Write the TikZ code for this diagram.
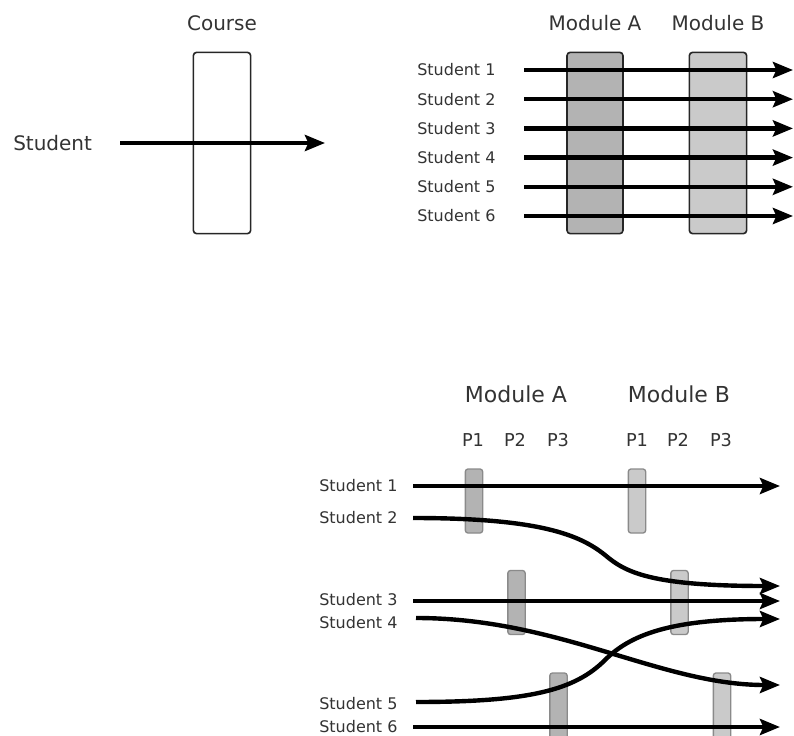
\documentclass[tikz,border=0pt]{standalone}
\usepackage{fontspec}
\setmainfont{DejaVu Sans}
\usetikzlibrary{arrows.meta,positioning}
\definecolor{modA}{HTML}{B3B3B3}
\definecolor{modB}{HTML}{CACACA}
\definecolor{barline}{HTML}{8A8A8A}
\definecolor{ink}{HTML}{333333}

\begin{document}
\begin{tikzpicture}[x=0.75pt,y=-0.75pt,
    lbl/.style={text=ink,inner sep=0pt,font=\fontsize{15pt}{18pt}\selectfont},
    small/.style={lbl,font=\fontsize{12pt}{14pt}\selectfont},
    box/.style={draw=black!85,line width=1.2pt,rounded corners=2.5pt,minimum width=43pt,minimum height=136pt,inner sep=0pt},
    bar/.style={draw=barline,line width=1pt,rounded corners=2pt,minimum width=13pt,minimum height=48pt,inner sep=0pt},
    flow/.style={line width=3.3pt,-{Stealth[length=15pt,width=12pt,inset=2.5pt]}}]
    \useasboundingbox (0,0) rectangle (794,736);

    % one course
    \node[box] (course) at (222,143) {};
    \node[lbl] (coursel) [above=15pt of course] {Course};
    \node[lbl,anchor=west] (student) at (13,143) {Student};
    \coordinate (s0) at (120,143);
    \coordinate (e0) at (325,143);
    \draw[flow] (s0) -- (e0);

    % two modules, same cohort
    \node[box,fill=modA,minimum width=42pt] (boxA) at (595,143) {};
    \node[box,fill=modB] (boxB) at (718,143) {};
    \node[lbl] (boxAl) [above=15pt of boxA] {Module A};
    \node[lbl] (boxBl) [above=15pt of boxB] {Module B};
    \foreach \i in {1,...,6} {
      \node[small,anchor=west] (stu\i) at (417,{70+29.2*(\i-1)}) {Student \i};
      \coordinate (a\i) at (524,{70+29.2*(\i-1)});
      \coordinate (b\i) at (793,{70+29.2*(\i-1)});
      \draw[flow] (a\i) -- (b\i);
    }

    % modules split into periods
    \node[lbl,font=\fontsize{16.5pt}{19pt}\selectfont] (modA) at (516,394) {Module A};
    \node[lbl,font=\fontsize{16.5pt}{19pt}\selectfont] (modB) at (679,394) {Module B};
    \foreach \x/\n in {473/1,515/2,558/3}
      \node[lbl,font=\fontsize{13.3pt}{16pt}\selectfont] (pa\n) at (\x,440) {P\n};
    \foreach \x/\n in {637/1,678/2,721/3}
      \node[lbl,font=\fontsize{13.3pt}{16pt}\selectfont] (pb\n) at (\x,440) {P\n};

    \node[bar,fill=modA] (ba1) at (474,501) {};
    \node[bar,fill=modA] (ba2) at (516.5,602.5) {};
    \node[bar,fill=modA,minimum height=54pt] (ba3) at (558.5,709) {};
    \node[bar,fill=modB] (bb1) at (637,501) {};
    \node[bar,fill=modB] (bb2) at (679.5,602.5) {};
    \node[bar,fill=modB,minimum height=54pt] (bb3) at (722,709) {};

    \foreach \i/\y in {1/486,2/518,3/600,4/623,5/704,6/727}
      \node[small,anchor=west] (sb\i) at (319,\y) {Student \i};

    \coordinate (c1) at (413,486); \coordinate (d1) at (780,486);
    \coordinate (c2) at (413,518); \coordinate (d2) at (780,586);
    \coordinate (c3) at (413,601); \coordinate (d3) at (780,601);
    \coordinate (c4) at (416,618); \coordinate (d4) at (780,685);
    \coordinate (c5) at (416,702); \coordinate (d5) at (780,619);
    \coordinate (c6) at (413,727); \coordinate (d6) at (780,727);

    \draw[flow] (c1) -- (d1);
    \draw[flow] (c2) .. controls (540,518) and (580,535) .. (605,555)
                     .. controls (625,572) and (650,586) .. (d2);
    \draw[flow] (c3) -- (d3);
    \draw[flow] (c4) .. controls (560,618) and (660,685) .. (d4);
    \draw[flow] (c5) .. controls (530,702) and (575,690) .. (605,660)
                     .. controls (630,635) and (670,619) .. (d5);
    \draw[flow] (c6) -- (d6);
\end{tikzpicture}
\end{document}
